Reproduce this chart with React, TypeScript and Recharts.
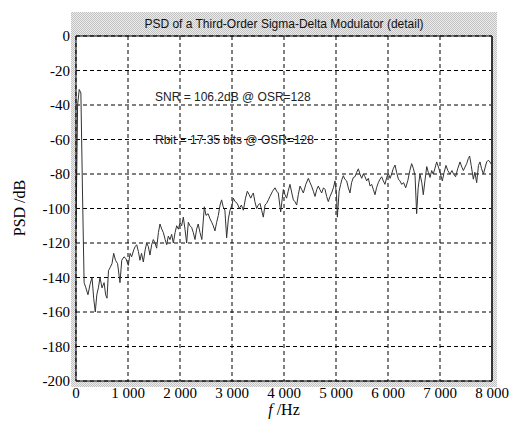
import React from 'react';
import { LineChart, Line, XAxis, YAxis, CartesianGrid, ReferenceDot } from 'recharts';

const freqHz = [
  0, 31, 62, 94, 125, 156, 190, 230, 270, 308,
  340, 371, 400, 430, 462, 500, 540, 570, 596, 625,
  660, 692, 725, 760, 800, 846, 880, 923, 960, 1006,
  1040, 1070, 1110, 1140, 1167, 1200, 1230, 1260, 1295, 1330,
  1359, 1390, 1423, 1455, 1487, 1520, 1551, 1585, 1615, 1650,
  1680, 1715, 1744, 1775, 1808, 1840, 1872, 1905, 1936, 1970,
  2000, 2032, 2064, 2096, 2128, 2160, 2192, 2224, 2256, 2288,
  2320, 2350, 2385, 2420, 2468, 2500, 2540, 2577, 2610, 2640,
  2672, 2705, 2737, 2770, 2800, 2830, 2863, 2897, 2930, 2962,
  3000, 3025, 3060, 3100, 3140, 3180, 3218, 3260, 3295, 3330,
  3360, 3390, 3410, 3440, 3474, 3505, 3538, 3570, 3602, 3635,
  3665, 3700, 3730, 3780, 3827, 3860, 3890, 3936, 3987, 4020,
  4050, 4080, 4115, 4150, 4180, 4210, 4244, 4275, 4308, 4340,
  4372, 4420, 4468, 4500, 4530, 4565, 4596, 4630, 4660, 4690,
  4724, 4760, 4790, 4820, 4852, 4885, 4915, 4950, 4981, 5010,
  5026, 5060, 5090, 5115, 5141, 5170, 5205, 5237, 5269, 5300,
  5333, 5365, 5397, 5430, 5460, 5494, 5525, 5558, 5590, 5622,
  5655, 5686, 5718, 5750, 5780, 5814, 5846, 5878, 5910, 5942,
  5975, 6006, 6040, 6070, 6100, 6135, 6165, 6200, 6230, 6263,
  6300, 6340, 6380, 6420, 6455, 6490, 6520, 6551, 6580, 6615,
  6650, 6679, 6710, 6745, 6775, 6808, 6840, 6870, 6900, 6936,
  6970, 7000, 7045, 7080, 7115, 7150, 7192, 7230, 7260, 7300,
  7340, 7385, 7420, 7450, 7480, 7513, 7545, 7570, 7600, 7641,
  7670, 7705, 7740, 7769, 7800, 7835, 7870, 7897, 7930, 7960,
  8000,
];

const psdDb = [
  -112, -40, -31, -33, -91, -143, -146, -150, -144, -140,
  -152, -160, -150, -146, -140, -146, -143, -150, -152, -136,
  -134, -132, -126, -130, -132, -143, -130, -128, -129, -133,
  -126, -128, -124, -122, -121, -125, -130, -126, -131, -124,
  -120, -122, -127, -121, -118, -120, -123, -114, -109, -112,
  -114, -118, -121, -116, -118, -115, -120, -114, -110, -112,
  -108, -110, -105, -112, -120, -108, -110, -111, -114, -118,
  -112, -109, -114, -118, -99, -104, -103, -106, -108, -110,
  -113, -108, -104, -98, -95, -99, -101, -117, -106, -101,
  -98, -94, -96, -97, -100, -98, -101, -94, -90, -92,
  -94, -92, -91, -96, -100, -98, -97, -101, -105, -98,
  -97, -95, -93, -90, -88, -90, -91, -102, -89, -92,
  -94, -90, -86, -91, -95, -96, -98, -92, -87, -89,
  -91, -86, -82.5, -85, -87, -90, -93, -89, -87, -89,
  -91, -88, -89, -93, -96, -93, -91, -88, -84, -92,
  -105, -90, -86, -83, -81, -83, -84, -88, -91, -85,
  -82, -81.6, -79, -77, -80, -82.5, -80, -81.6, -84, -82.5,
  -87, -86, -89, -92, -88, -85, -83, -81.6, -84, -86,
  -82, -79.6, -82.5, -80, -77, -74.8, -79, -83, -84, -86,
  -85, -88, -84, -78, -74, -77, -81, -103, -88, -80,
  -85, -92, -84, -75.7, -79, -82, -78, -80, -77, -73,
  -76, -79, -84, -79, -75, -78, -80, -78, -80, -81.6,
  -77, -73, -76, -78, -76, -74, -71, -69.6, -75, -83,
  -79, -85, -75, -73, -77, -80, -76, -73, -72, -73,
  -75,
];

const xTicks = [0, 1000, 2000, 3000, 4000, 5000, 6000, 7000, 8000];
const yTicks = [0, -20, -40, -60, -80, -100, -120, -140, -160, -180, -200];
const xTickLabels = ['0', '1 000', '2 000', '3 000', '4 000', '5 000', '6 000', '7 000', '8 000'];

const titleText = 'PSD of a Third-Order Sigma-Delta Modulator (detail)';
const snrText = 'SNR = 106.2dB @ OSR=128';
const rbitText = 'Rbit = 17.35 bits @ OSR=128';

const data = freqHz.map((f, i) => ({ f, psd: psdDb[i] }));

const W = 518;
const H = 423;
const PL = 76;
const PT = 36;
const PR = 492;
const PB = 381;

const serif = '"Liberation Serif", "Times New Roman", serif';
const sans = '"Liberation Sans", Arial, sans-serif';

const checker = 'repeating-conic-gradient(#c2c2c2 0% 25%, #ececec 0% 50%) 0 0 / 2px 2px';

export default function App() {
  const tickStyle = { fontFamily: serif, fontSize: 15, fill: '#000' };
  return (
    <div style={{ position: 'absolute', left: 0, top: 0, width: W, height: H, background: '#fff', overflow: 'hidden' }}>
      <div style={{ position: 'absolute', left: 71, top: 12, width: 426, height: 375, background: checker }} />
      <div
        style={{
          position: 'absolute', left: PL, top: 12, width: PR - PL, height: 24, lineHeight: '24px',
          textAlign: 'center', fontFamily: sans, fontSize: 12, color: '#111', whiteSpace: 'nowrap',
        }}
      >
        {titleText}
      </div>
      <div style={{ position: 'absolute', left: 0, top: 0 }}>
        <LineChart width={W} height={H} data={data} margin={{ top: PT - 1, right: W - PR - 1, bottom: H - PB - 30, left: PL - 60 }}>
          <CartesianGrid fill="#fff" stroke="#000" strokeDasharray="4 3" verticalValues={xTicks} horizontalValues={yTicks} />
          <XAxis
            dataKey="f"
            type="number"
            domain={[0, 8000]}
            ticks={xTicks}
            tickFormatter={(v: number) => xTickLabels[xTicks.indexOf(v)] ?? String(v)}
            height={30}
            tickLine={false}
            tickSize={6}
            tickMargin={0}
            axisLine={{ stroke: '#000' }}
            tick={tickStyle}
            interval={0}
            allowDataOverflow
          />
          <XAxis xAxisId="top" orientation="top" type="number" domain={[0, 8000]} height={1} tick={false} tickLine={false} axisLine={{ stroke: '#000' }} />
          <YAxis
            type="number"
            domain={[-200, 0]}
            ticks={yTicks}
            width={60}
            tickLine={false}
            tickSize={4}
            tickMargin={2}
            axisLine={{ stroke: '#000' }}
            tick={tickStyle}
            interval={0}
            allowDataOverflow
          />
          <YAxis yAxisId="right" orientation="right" type="number" domain={[-200, 0]} width={1} tick={false} tickLine={false} axisLine={{ stroke: '#333', strokeWidth: 2 }} />
          <Line type="linear" dataKey="psd" stroke="#333" strokeWidth={1} dot={false} isAnimationActive={false} />
          <ReferenceDot
            x={1519}
            y={-35.2}
            r={0}
            fill="none"
            stroke="none"
            ifOverflow="visible"
            label={{ value: snrText, position: 'right', offset: 0, fill: '#222', fontSize: 12, fontFamily: sans }}
          />
          <ReferenceDot
            x={1519}
            y={-60.3}
            r={0}
            fill="none"
            stroke="none"
            ifOverflow="visible"
            label={{ value: rbitText, position: 'right', offset: 0, fill: '#222', fontSize: 12, fontFamily: sans }}
          />
        </LineChart>
      </div>
      <div
        style={{
          position: 'absolute', left: 20, top: 208, transform: 'translate(-50%, -50%) rotate(-90deg)',
          fontFamily: serif, fontSize: 16, whiteSpace: 'nowrap', color: '#000',
        }}
      >
        PSD /dB
      </div>
      <div
        style={{
          position: 'absolute', left: 284, top: 410, transform: 'translate(-50%, -50%)',
          fontFamily: serif, fontSize: 16, whiteSpace: 'nowrap', color: '#000',
        }}
      >
        <i>f</i> /Hz
      </div>
    </div>
  );
}
